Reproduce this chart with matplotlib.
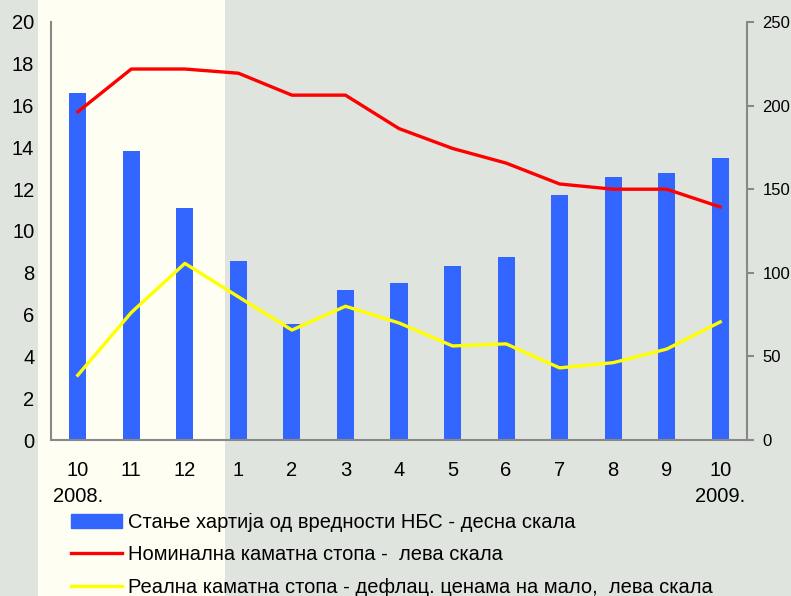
import matplotlib
matplotlib.use('Agg')
import matplotlib.pyplot as plt
from matplotlib.patches import Rectangle
from matplotlib.lines import Line2D

# Подаци
meseci = ['10', '11', '12', '1', '2', '3', '4', '5', '6', '7', '8', '9', '10']
hartije = [207.5, 172.8, 138.8, 107.0, 69.4, 89.7, 94.0, 104.0, 109.5, 146.5, 157.3, 159.7, 168.7]
nominalna = [15.7, 17.75, 17.75, 17.55, 16.5, 16.5, 14.9, 13.95, 13.25, 12.25, 12.0, 12.0, 11.15]
realna = [3.1, 6.1, 8.45, 6.85, 5.26, 6.4, 5.6, 4.5, 4.6, 3.45, 3.7, 4.35, 5.65]

lbl_bar = 'Стање хартија од вредности НБС - десна скала'
lbl_nom = 'Номинална каматна стопа -  лева скала'
lbl_real = 'Реална каматна стопа - дефлац. ценама на мало,  лева скала'

FS = 14.5
plt.rcParams['font.family'] = ['Liberation Sans', 'DejaVu Sans']
plt.rcParams['font.size'] = FS

fig = plt.figure(figsize=(7.91, 5.96), dpi=100)
fig.patch.set_facecolor('#DFE4DE')

# позадина слајда: светла трака лево
bg = fig.add_axes([0, 0, 1, 1], zorder=-10)
bg.set_xlim(0, 791)
bg.set_ylim(596, 0)
bg.axis('off')
bg.add_patch(Rectangle((38, 0), 225 - 38, 596, facecolor='#FEFEF2', edgecolor='none'))

ax = fig.add_axes([51 / 791, 156 / 596, 696 / 791, 418 / 596])
ax2 = ax.twinx()
ax.set_zorder(ax2.get_zorder() + 1)
ax.patch.set_visible(False)
ax2.patch.set_visible(False)

x = list(range(len(meseci)))
ax2.bar(x, hartije, width=0.32, color='#3366FF')
ax.plot(x, nominalna, color='#FF0000', lw=2.4, solid_joinstyle='round')
ax.plot(x, realna, color='#FFFF00', lw=2.4, solid_joinstyle='round')

ax.set_xlim(-0.5, len(meseci) - 0.5)
ax.set_ylim(0, 20)
ax.set_yticks(range(0, 21, 2))
ax2.set_ylim(0, 250)
ax2.set_yticks(range(0, 251, 50))

for a in (ax, ax2):
    for s in a.spines.values():
        s.set_visible(False)
ax.spines['left'].set_visible(True)
ax.spines['bottom'].set_visible(True)
ax2.spines['right'].set_visible(True)
for s in (ax.spines['left'], ax.spines['bottom'], ax2.spines['right']):
    s.set_color('#888888')
    s.set_linewidth(1.5)

ax.tick_params(axis='y', length=0, pad=12, labelsize=FS)
ax.tick_params(axis='x', length=0, pad=15, labelsize=FS)
ax2.tick_params(axis='y', length=5, width=1.5, color='#888888', pad=6, labelsize=12)
ax.set_xticks(x)
ax.set_xticklabels(meseci)

fig.text(53 / 791, 1 - 497 / 596, '2008.', fontsize=FS, va='center', ha='left')
fig.text(745 / 791, 1 - 497 / 596, '2009.', fontsize=FS, va='center', ha='right')

handles = [Rectangle((0, 0), 1, 1, color='#3366FF'),
           Line2D([], [], color='#FF0000', lw=2.4),
           Line2D([], [], color='#FFFF00', lw=2.4)]
fig.legend(handles, [lbl_bar, lbl_nom, lbl_real], loc='upper left',
           bbox_to_anchor=(63 / 791, 1 - 505 / 596), frameon=False,
           handlelength=2.55, handleheight=0.7, handletextpad=0.3,
           labelspacing=0.66, fontsize=FS, borderaxespad=0)

fig.savefig('out.png', dpi=100, facecolor=fig.get_facecolor())
